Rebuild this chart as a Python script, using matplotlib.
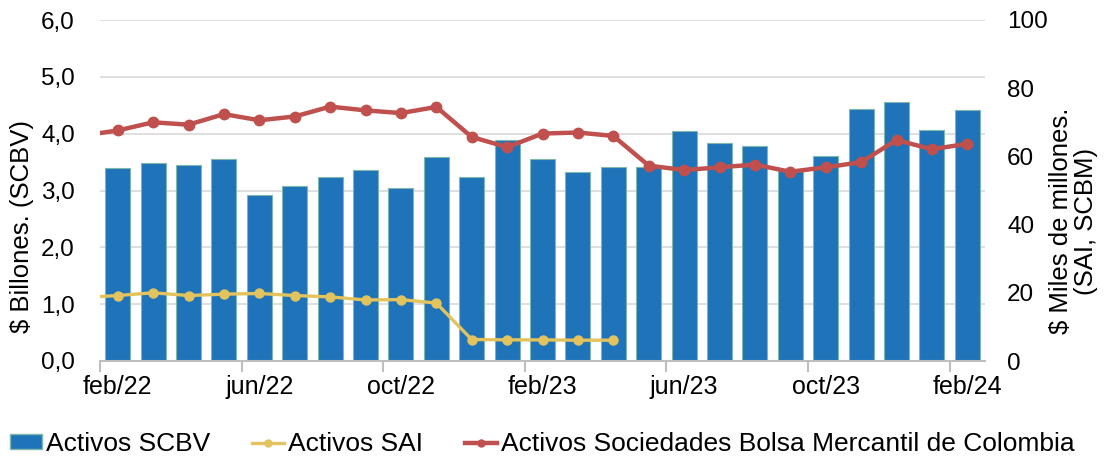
"""SCBV / SAI / Bolsa Mercantil assets, monthly, feb/22 - feb/24."""

import matplotlib
matplotlib.use("Agg")
import matplotlib.pyplot as plt
import numpy as np
from matplotlib.lines import Line2D
from matplotlib.patches import Patch
from matplotlib.ticker import FuncFormatter

plt.rcParams["font.family"] = ["Liberation Sans", "DejaVu Sans"]

# months shown on the axis (feb/22 .. feb/24)
meses = ["feb/22", "mar/22", "abr/22", "may/22", "jun/22", "jul/22", "ago/22",
         "sep/22", "oct/22", "nov/22", "dic/22", "ene/23", "feb/23", "mar/23",
         "abr/23", "may/23", "jun/23", "jul/23", "ago/23", "sep/23", "oct/23",
         "nov/23", "dic/23", "ene/24", "feb/24"]

# Activos SCBV, $ billones (left axis)
activos_scbv = [3.39, 3.49, 3.45, 3.55, 2.92, 3.08, 3.24, 3.36, 3.05, 3.59,
                3.24, 3.89, 3.55, 3.33, 3.41, 3.41, 4.04, 3.83, 3.79, 3.37,
                3.61, 4.43, 4.55, 4.07, 4.41]

# lines start one month earlier (ene/22), that point sits just off the left edge
# Activos SAI, $ miles de millones (right axis), ene/22 .. abr/23
activos_sai = [18.6, 19.2, 20.0, 19.2, 19.6, 19.8, 19.2, 18.8, 17.9, 18.0,
               17.0, 6.3, 6.2, 6.2, 6.1, 6.1]
# Activos Sociedades Bolsa Mercantil, $ miles de millones, ene/22 .. feb/24
activos_bolsa = [66.1, 67.6, 70.0, 69.3, 72.4, 70.6, 71.7, 74.6, 73.5, 72.7,
                 74.5, 65.7, 62.7, 66.7, 67.0, 66.0, 57.3, 56.0, 56.8, 57.6,
                 55.5, 56.8, 58.3, 64.8, 62.1, 63.7]

AZUL = "#1f73b9"
BORDE = "#7fb7ad"
AMARILLO = "#e2c35e"
ROJO = "#c0504d"
GRIS = "#bfbfbf"

fig = plt.figure(figsize=(11.08, 4.59), dpi=100)
ax = fig.add_axes([100 / 1108, 1 - 361 / 459, 885 / 1108, 341 / 459])

x = np.arange(len(meses))
ax.bar(x, activos_scbv, width=0.71, color=AZUL, edgecolor=BORDE,
       linewidth=0.8, zorder=2)
ax.set_xlim(-0.5, len(meses) - 0.5)
ax.set_ylim(0, 6)
ax.set_yticks(np.arange(0, 7, 1))
ax.yaxis.set_major_formatter(FuncFormatter(lambda v, p: f"{v:.1f}".replace(".", ",")))
ax.grid(axis="y", color="#d9d9d9", linewidth=1.2, zorder=0)
ax.set_axisbelow(True)

# ticks on category boundaries every 4 months, labels centred on the month
ax.set_xticks(np.arange(-0.5, len(meses), 4))
ax.set_xticklabels([])
ax.set_xticks(x[::4], minor=True)
ax.set_xticklabels(meses[::4], minor=True)
ax.tick_params(axis="x", which="major", length=8, width=1.5, color=GRIS)
ax.tick_params(axis="x", which="minor", length=0, pad=10, labelsize=18)
ax.tick_params(axis="y", length=0, pad=18, labelsize=17.5)

for s in ["top", "right", "left"]:
    ax.spines[s].set_visible(False)
ax.spines["bottom"].set_color(GRIS)
ax.spines["bottom"].set_linewidth(1.5)
ax.text(-0.088, 0.395, "$ Billones. (SCBV)", transform=ax.transAxes,
        rotation=90, ha="center", va="center", fontsize=18.5)

ax2 = ax.twinx()
ax2.plot(np.arange(-1, len(activos_sai) - 1), activos_sai, color=AMARILLO,
         linewidth=2.4, marker="o", markersize=6.5)
ax2.plot(np.arange(-1, len(activos_bolsa) - 1), activos_bolsa, color=ROJO,
         linewidth=3.2, marker="o", markersize=7.5)
ax2.set_ylim(0, 100)
ax2.set_yticks(np.arange(0, 101, 20))
ax2.tick_params(axis="y", length=0, pad=16, labelsize=17.5)
for s in ["top", "right", "left", "bottom"]:
    ax2.spines[s].set_visible(False)
ax2.text(1.100, 0.41, "$ Miles de millones.\n(SAI, SCBM)", transform=ax2.transAxes,
         rotation=90, ha="center", va="center", fontsize=18.5, linespacing=1.05,
         multialignment="center")

handles = [
    Patch(facecolor=AZUL, edgecolor=BORDE),
    Line2D([], [], color=AMARILLO, linewidth=2.4, marker="o", markersize=5),
    Line2D([], [], color=ROJO, linewidth=3.2, marker="o", markersize=5),
]
labels = ["Activos SCBV", "Activos SAI",
          "Activos Sociedades Bolsa Mercantil de Colombia"]
fig.legend(handles, labels, loc="center", ncol=3, frameon=False,
           fontsize=19, bbox_to_anchor=(0.4896, 0.032), handlelength=1.2,
           handleheight=0.5, handletextpad=0.15, columnspacing=1.6,
           borderpad=0)

fig.savefig("out.png", dpi=100)
